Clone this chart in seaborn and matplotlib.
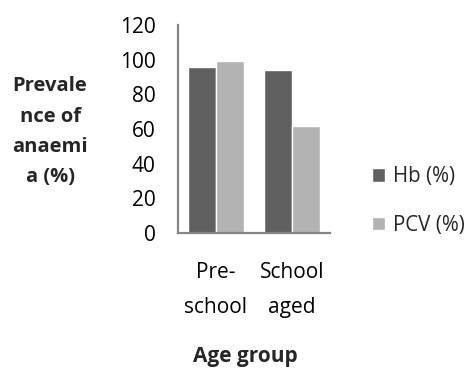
import matplotlib
matplotlib.use("Agg")
import matplotlib.pyplot as plt
import seaborn as sns
import pandas as pd

# Data
age_groups = ["Pre-\nschool", "School\naged"]
hb_values = [96, 94]
pcv_values = [99, 62]
series_names = ["Hb (%)", "PCV (%)"]
y_ticks = [0, 20, 40, 60, 80, 100, 120]

df = pd.DataFrame({
    "Age group": age_groups * 2,
    "Series": [series_names[0]] * len(age_groups) + [series_names[1]] * len(age_groups),
    "Value": hb_values + pcv_values,
})

sns.set_theme(style="white")
plt.rcParams["font.family"] = ["Open Sans", "DejaVu Sans"]

fig = plt.figure(figsize=(4.77, 3.69), dpi=100)
ax = fig.add_axes([0.373, 0.369, 0.319, 0.563])

palette = {"Hb (%)": "#606060", "PCV (%)": "#b3b3b3"}
sns.barplot(data=df, x="Age group", y="Value", hue="Series", palette=palette,
            width=0.73, saturation=1, ax=ax, legend=True)

ax.set_xlim(-0.5, 1.5)
ax.set_ylim(0, 120)
ax.set_yticks(y_ticks)
ax.set_yticklabels([str(t) for t in y_ticks], fontsize=15, color="black")
ax.tick_params(axis="y", length=0, pad=16)
ax.tick_params(axis="x", length=0, pad=21, labelsize=15, labelcolor="black")
for lbl in ax.get_xticklabels():
    lbl.set_linespacing(1.9)

for side in ["top", "right"]:
    ax.spines[side].set_visible(False)
for side in ["left", "bottom"]:
    ax.spines[side].set_color("#868686")
    ax.spines[side].set_linewidth(1.6)

ax.set_ylabel("")
ax.set_xlabel("")
fig.text(0.105, 0.643, "Prevale\nnce of\nanaemi\na (%)", ha="center", va="center",
         fontsize=14.5, fontweight="bold", linespacing=1.68)
fig.text(0.515, 0.033, "Age group", ha="center", va="center",
         fontsize=15, fontweight="bold")

handles, labels = ax.get_legend_handles_labels()
ax.legend(handles, labels, loc="center left", bbox_to_anchor=(0.78, 0.455),
          bbox_transform=fig.transFigure, frameon=False, fontsize=14.8,
          handlelength=0.62, handleheight=0.62, handletextpad=0.42,
          labelspacing=1.35, borderpad=0, borderaxespad=0)

fig.savefig("out.png", dpi=100)
